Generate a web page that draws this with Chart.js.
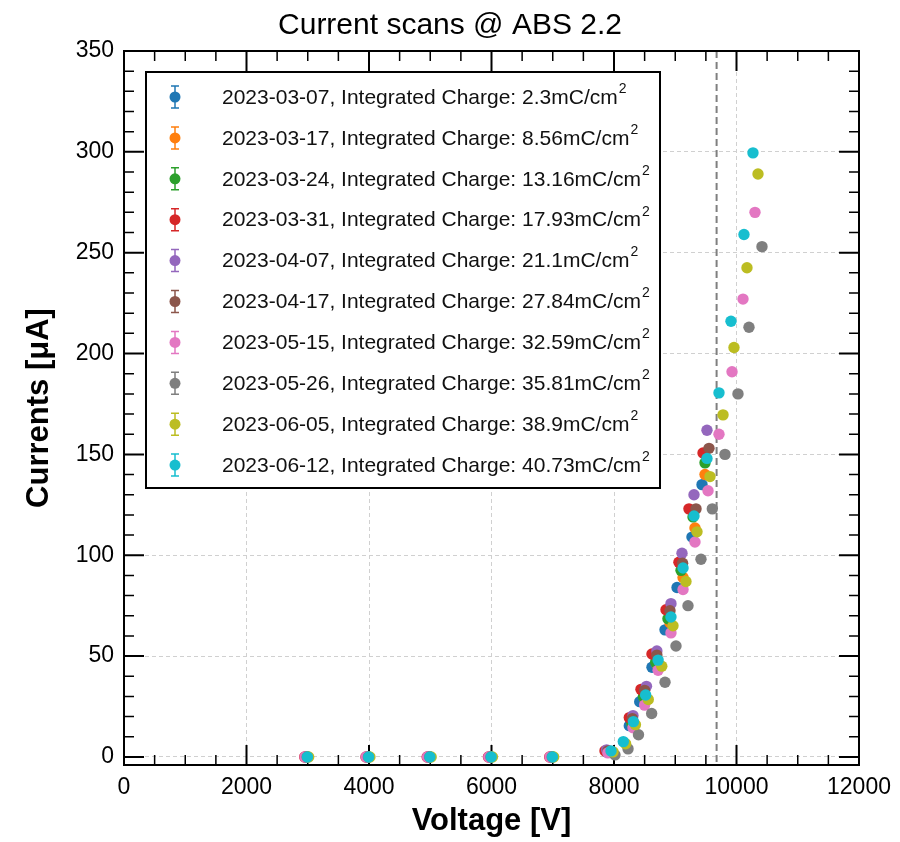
<!DOCTYPE html>
<html><head><meta charset="utf-8">
<script src="https://cdn.jsdelivr.net/npm/chart.js@4.4.0/dist/chart.umd.min.js"></script>
<style>html,body{margin:0;padding:0;background:#fff;}</style>
</head><body>
<canvas id="c" width="900" height="842" style="width:900px;height:842px;display:block"></canvas>
<script>
const TITLE = 'Current scans @ ABS 2.2';
const X_LABEL = 'Voltage [V]';
const Y_LABEL = 'Currents [μA]';
const X_TICKS = [0, 2000, 4000, 6000, 8000, 10000, 12000];
const Y_TICKS = [0, 50, 100, 150, 200, 250, 300, 350];
const V_LINE = 9675;

const dates = ['2023-03-07','2023-03-17','2023-03-24','2023-03-31','2023-04-07','2023-04-17','2023-05-15','2023-05-26','2023-06-05','2023-06-12'];
const charges = ['2.3','8.56','13.16','17.93','21.1','27.84','32.59','35.81','38.9','40.73'];
const colors = ['#1f77b4','#ff7f0e','#2ca02c','#d62728','#9467bd','#8c564b','#e377c2','#7f7f7f','#bcbd22','#17becf'];

const V1 = [2980,3980,4980,5980,6980,7880,8250,8420,8620,8833,9029,9273,9437];
const I1 = [0,0,0,0,0,2.5,15.5,27.4,44.5,63,84,109,135];
const V2 = [2990,3990,4990,5990,6990,7910,8300,8500,8700,8914,9127,9322,9486];
const I2 = [0,0,0,0,0,2.5,16.5,29,46,66.5,89,113.5,140];
const V3 = [2985,3985,4985,5985,6985,7900,8290,8480,8680,8881,9094,9290,9486];
const I3 = [0,0,0,0,0,3,17,30,47,68.5,92.5,119,145.8];
const V4 = [2950,3950,4950,5950,6950,7853,8250,8440,8620,8849,9060,9224,9453];
const I4 = [0,0,0,0,0,3,19.5,33.5,51,73,96.5,123,150.7];
const V5 = [2970,3970,4970,5970,6970,7880,8310,8530,8700,8930,9110,9306,9518];
const I5 = [0,0,0,0,0,3.5,20.5,35,52.5,76,101,130,162];
const V6 = [2980,3980,4980,5980,6980,7900,8300,8500,8700,8914,9120,9339,9551];
const I6 = [0,0,0,0,0,3,19,33,50.5,72.5,96,123,153];
const V7 = [2955,3955,4955,5955,6955,7900,8310,8500,8720,8930,9127,9322,9535,9714,9927,10106,10302];
const I7 = [0,0,0,0,0,2,14.5,25.7,43,61.5,83,106.6,132,160,191,227,270];
const V8 = [2990,3990,4990,5990,6990,8016,8229,8400,8615,8833,9012,9208,9420,9605,9812,10024,10204,10416];
const I8 = [0,0,0,0,0,1,4,11,21.5,37,55,75,98,123,150,180,213,253];
const V9 = [3015,4015,5015,6015,7015,7984,8190,8350,8560,8780,8963,9175,9355,9567,9780,9959,10171,10351];
const I9 = [0,0,0,0,0,2.5,6.5,16,28.5,45,65,87,111.6,139,169.6,203,242.5,289];
const V10 = [2995,3995,4995,5995,6995,7951,8152,8317,8517,8720,8930,9127,9306,9518,9714,9910,10122,10269];
const I10 = [0,0,0,0,0,3,7.6,17.5,30.7,48,69.4,93.7,119.5,148,180.5,216,259,299.5];

const VS = [V1,V2,V3,V4,V5,V6,V7,V8,V9,V10];
const IS = [I1,I2,I3,I4,I5,I6,I7,I8,I9,I10];

const FONT = '"Liberation Sans", Arial, Helvetica, sans-serif';

const datasets = VS.map((vs, k) => ({
  label: dates[k] + ', Integrated Charge: ' + charges[k] + 'mC/cm²',
  data: vs.map((v, j) => ({x: v, y: IS[k][j]})),
  backgroundColor: colors[k],
  borderColor: colors[k],
  borderWidth: 0,
  pointRadius: 5.7,
  showLine: false,
  order: VS.length - k,
  clip: false
}));

const decor = {
  id: 'decor',
  beforeDatasetsDraw(chart) {
    const {ctx, chartArea: a, scales: {x, y}} = chart;
    ctx.save();
    const px = x.getPixelForValue(V_LINE);
    ctx.strokeStyle = '#7f7f7f'; ctx.lineWidth = 2; ctx.setLineDash([7, 4]);
    ctx.beginPath(); ctx.moveTo(px, a.top); ctx.lineTo(px, a.bottom); ctx.stroke();
    ctx.setLineDash([]);
    ctx.strokeStyle = '#000';
    for (let v = x.min; v <= x.max; v += 500) {
      const major = X_TICKS.includes(v);
      const len = major ? 20 : 10;
      const p = x.getPixelForValue(v);
      ctx.lineWidth = major ? 2 : 1.5;
      ctx.beginPath();
      ctx.moveTo(p, a.bottom); ctx.lineTo(p, a.bottom - len);
      ctx.moveTo(p, a.top); ctx.lineTo(p, a.top + len);
      ctx.stroke();
    }
    for (let v = 0; v <= 350; v += 10) {
      const major = Y_TICKS.includes(v);
      const len = major ? 20 : 10;
      const p = y.getPixelForValue(v);
      ctx.lineWidth = major ? 2 : 1.5;
      ctx.beginPath();
      ctx.moveTo(a.left, p); ctx.lineTo(a.left + len, p);
      ctx.moveTo(a.right, p); ctx.lineTo(a.right - len, p);
      ctx.stroke();
    }
    ctx.lineWidth = 2;
    ctx.strokeRect(a.left, a.top, a.right - a.left, a.bottom - a.top);
    ctx.restore();
  },
  afterDraw(chart) {
    const {ctx} = chart;
    ctx.save();
    const L = 146, T = 72, R = 660, B = 488;
    ctx.fillStyle = '#fff';
    ctx.fillRect(L, T, R - L, B - T);
    ctx.strokeStyle = '#000'; ctx.lineWidth = 2;
    ctx.strokeRect(L, T, R - L, B - T);
    const row0 = 97, dy = 40.9;
    for (let k = 0; k < dates.length; k++) {
      const yy = row0 + k * dy;
      const mx = 175;
      ctx.strokeStyle = colors[k]; ctx.fillStyle = colors[k]; ctx.lineWidth = 1.5;
      ctx.beginPath();
      ctx.moveTo(mx, yy - 11); ctx.lineTo(mx, yy + 11);
      ctx.moveTo(mx - 4, yy - 11); ctx.lineTo(mx + 4, yy - 11);
      ctx.moveTo(mx - 4, yy + 11); ctx.lineTo(mx + 4, yy + 11);
      ctx.stroke();
      ctx.beginPath(); ctx.arc(mx, yy, 5.5, 0, Math.PI * 2); ctx.fill();
      const txt = dates[k] + ', Integrated Charge: ' + charges[k] + 'mC/cm';
      ctx.fillStyle = '#111';
      ctx.font = '21px ' + FONT;
      ctx.textBaseline = 'middle'; ctx.textAlign = 'left';
      ctx.fillText(txt, 222, yy + 1);
      const w = ctx.measureText(txt).width;
      ctx.font = '14px ' + FONT;
      ctx.fillText('2', 222 + w + 1, yy - 8);
    }
    ctx.restore();
  }
};

new Chart(document.getElementById('c'), {
  type: 'scatter',
  data: {datasets},
  plugins: [decor],
  options: {
    responsive: false,
    animation: false,
    events: [],
    layout: {padding: {top: 0, right: 0, left: 0, bottom: 0}},
    plugins: {
      legend: {display: false},
      tooltip: {enabled: false},
      title: {display: true, text: TITLE, color: '#000',
        font: {family: FONT, size: 30, weight: 'normal', lineHeight: 1.2},
        padding: {top: 8, bottom: 7}}
    },
    scales: {
      x: {
        type: 'linear', min: 0, max: 12000,
        afterBuildTicks: s => { s.ticks = X_TICKS.map(v => ({value: v})); },
        afterFit: s => { s.height = 77; },
        ticks: {font: {family: FONT, size: 23}, color: '#000', padding: 9, maxRotation: 0, autoSkip: false,
          callback: v => String(v)},
        grid: {color: '#d0d0d0', lineWidth: 1, drawTicks: false},
        border: {display: false, dash: [4, 3]},
        title: {display: true, text: X_LABEL, color: '#000',
          font: {family: FONT, size: 31, weight: 'bold', lineHeight: 1.2}, padding: {top: 0, bottom: 2}}
      },
      y: {
        type: 'linear', min: -4, max: 350,
        afterBuildTicks: s => { s.ticks = Y_TICKS.map(v => ({value: v})); },
        afterFit: s => { s.width = 124; },
        ticks: {font: {family: FONT, size: 23}, color: '#000', padding: 10, autoSkip: false,
          callback: v => String(v)},
        grid: {color: '#d0d0d0', lineWidth: 1, drawTicks: false},
        border: {display: false, dash: [4, 3]},
        title: {display: true, text: Y_LABEL, color: '#000',
          font: {family: FONT, size: 31, weight: 'bold', lineHeight: 1.2}, padding: {top: 21, bottom: 0}}
      },
      yR: {
        type: 'linear', position: 'right', min: -4, max: 350,
        afterFit: s => { s.width = 41; },
        ticks: {display: false},
        grid: {display: false, drawTicks: false},
        border: {display: false}
      }
    }
  }
});
</script>
</body></html>
